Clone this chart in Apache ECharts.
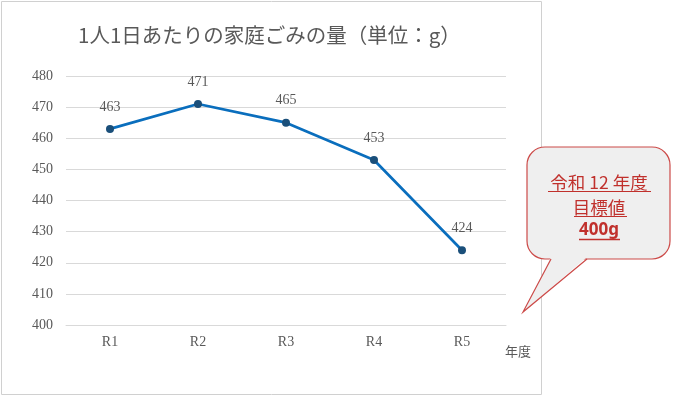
<!DOCTYPE html>
<html>
<head>
<meta charset="utf-8">
<script src="https://cdn.jsdelivr.net/npm/echarts@6/dist/echarts.min.js"></script>
<style>
  html, body { margin: 0; padding: 0; background: #fff; }
  #chart { width: 674px; height: 397px; }
</style>
</head>
<body>
<div id="chart"></div>
<script>
// chart data
const years = ['R1', 'R2', 'R3', 'R4', 'R5'];
const grams = [463, 471, 465, 453, 424];
const yTicks = { min: 400, max: 480, step: 10 };

const chart = echarts.init(document.getElementById('chart'));

const grey = '#595959';
const red = '#c0302c';

const options = {
  animation: false,
  grid: { left: 66, right: 168, top: 76, bottom: 72 },
  title: {
    text: '1人1日あたりの家庭ごみの量（単位：g）',
    left: 73,
    top: 20,
    textStyle: {
      fontFamily: 'Noto Sans CJK JP',
      fontSize: 20.5,
      fontWeight: 'normal',
      color: grey
    }
  },
  xAxis: {
    type: 'category',
    data: years,
    axisLine: { lineStyle: { color: '#d9d9d9' } },
    axisTick: { show: false },
    axisLabel: {
      margin: 10,
      fontFamily: 'Liberation Serif',
      fontSize: 14,
      color: grey
    }
  },
  yAxis: {
    type: 'value',
    min: yTicks.min,
    max: yTicks.max,
    interval: yTicks.step,
    axisLine: { show: false },
    axisTick: { show: false },
    splitLine: { lineStyle: { color: '#d9d9d9' } },
    axisLabel: {
      margin: 13,
      fontFamily: 'Liberation Serif',
      fontSize: 14,
      color: grey
    }
  },
  series: [
    {
      type: 'line',
      data: grams,
      symbol: 'circle',
      symbolSize: 8,
      lineStyle: { color: '#0a6ebd', width: 2.7 },
      itemStyle: { color: '#1a4f7a' },
      label: {
        show: true,
        position: 'top',
        distance: 11,
        fontFamily: 'Liberation Serif',
        fontSize: 14,
        color: grey
      }
    }
  ],
  graphic: [
    // outer chart frame
    {
      type: 'rect',
      shape: { x: 1.5, y: 1.5, width: 540, height: 393 },
      style: { fill: 'none', stroke: '#d0d0d0', lineWidth: 1 },
      silent: true
    },
    {
      type: 'text',
      left: 505,
      top: 345,
      style: { text: '年度', fontFamily: 'Noto Sans CJK JP', fontSize: 13, fill: grey }
    },
    // callout box
    {
      type: 'rect',
      shape: { x: 527, y: 147, width: 143, height: 112, r: 18 },
      style: { fill: '#efefef', stroke: '#cc4a48', lineWidth: 1.2 }
    },
    {
      type: 'polygon',
      shape: { points: [[551, 257], [523, 312], [587, 257]] },
      style: { fill: '#efefef' }
    },
    {
      type: 'polyline',
      shape: { points: [[551, 259], [523, 312], [587, 259]] },
      style: { fill: 'none', stroke: '#cc4a48', lineWidth: 1.2 }
    },
    {
      type: 'text',
      x: 599, y: 182,
      style: { text: '令和 12 年度', fontFamily: 'Noto Sans CJK JP', fontSize: 17.5, fill: red, align: 'center', verticalAlign: 'middle' }
    },
    { type: 'line', shape: { x1: 548, y1: 191.5, x2: 651, y2: 191.5 }, style: { stroke: red, lineWidth: 1 } },
    {
      type: 'text',
      x: 599, y: 207,
      style: { text: '目標値', fontFamily: 'Noto Sans CJK JP', fontSize: 17.5, fill: red, align: 'center', verticalAlign: 'middle' }
    },
    { type: 'line', shape: { x1: 574, y1: 216.5, x2: 627, y2: 216.5 }, style: { stroke: red, lineWidth: 1 } },
    {
      type: 'text',
      x: 599, y: 230,
      style: { text: '400g', fontFamily: 'Noto Sans', fontSize: 17, fontWeight: 'bold', fill: red, align: 'center', verticalAlign: 'middle' }
    },
    { type: 'line', shape: { x1: 579, y1: 239.5, x2: 620, y2: 239.5 }, style: { stroke: red, lineWidth: 1.5 } }
  ]
};

chart.setOption(options);
</script>
</body>
</html>
